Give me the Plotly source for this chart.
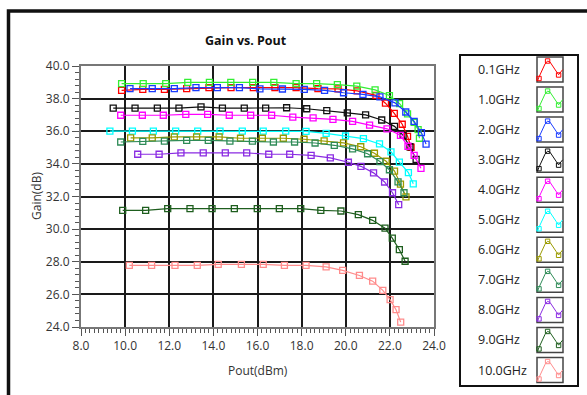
import plotly.graph_objects as go

# ---------------- data ----------------
freq_labels = ["0.1GHz", "1.0GHz", "2.0GHz", "3.0GHz", "4.0GHz", "5.0GHz",
               "6.0GHz", "7.0GHz", "8.0GHz", "9.0GHz", "10.0GHz"]
colors = ["#FF0000", "#33EE33", "#1A3CFF", "#111111", "#FF00FF", "#00FFFF",
          "#9A9A00", "#2E8B57", "#8A2BE2", "#1E5E1E", "#FF8C8C"]

pout_0p1 = [9.84, 10.80, 11.78, 12.79, 13.80, 14.80, 15.81, 16.79, 17.75, 18.74, 19.65, 20.52, 21.37, 21.80, 22.20, 22.56, 22.80, 22.96]
gain_0p1 = [38.51, 38.57, 38.57, 38.61, 38.68, 38.68, 38.68, 38.68, 38.68, 38.61, 38.60, 38.47, 38.20, 37.72, 37.10, 36.43, 35.69, 35.02]

pout_1p0 = [9.84, 10.82, 11.84, 12.84, 13.82, 14.79, 15.78, 16.74, 17.75, 18.68, 19.62, 20.50, 21.33, 21.98, 22.44, 22.80, 23.10, 23.28, 23.34]
gain_1p0 = [38.92, 38.92, 38.92, 39.00, 39.00, 39.00, 39.00, 39.00, 38.92, 38.92, 38.86, 38.77, 38.54, 38.19, 37.69, 37.07, 36.55, 36.10, 35.57]

pout_2p0 = [10.22, 11.23, 12.23, 13.21, 14.18, 15.18, 16.11, 17.13, 18.12, 19.04, 19.90, 20.78, 21.55, 22.23, 22.72, 23.10, 23.43, 23.64]
gain_2p0 = [38.61, 38.61, 38.61, 38.68, 38.68, 38.68, 38.60, 38.59, 38.57, 38.51, 38.36, 38.26, 38.11, 37.74, 37.18, 36.60, 35.91, 35.21]

pout_3p0 = [9.46, 10.45, 11.46, 12.44, 13.44, 14.41, 15.40, 16.37, 17.32, 18.23, 19.14, 20.07, 20.90, 21.63, 22.21, 22.60, 22.91, 23.19]
gain_3p0 = [37.42, 37.42, 37.42, 37.42, 37.49, 37.42, 37.42, 37.42, 37.44, 37.38, 37.27, 37.13, 37.00, 36.69, 36.30, 35.75, 35.05, 34.28]

pout_4p0 = [9.80, 10.78, 11.73, 12.75, 13.74, 14.72, 15.69, 16.64, 17.60, 18.52, 19.42, 20.31, 21.08, 21.87, 22.48, 22.82, 23.10, 23.41]
gain_4p0 = [36.98, 36.98, 36.98, 37.04, 37.04, 36.98, 36.98, 36.98, 36.87, 36.82, 36.73, 36.61, 36.37, 36.15, 35.75, 35.08, 34.52, 33.73]

pout_5p0 = [9.31, 10.33, 11.28, 12.29, 13.29, 14.30, 15.31, 16.26, 17.28, 18.20, 19.11, 19.99, 20.80, 21.53, 22.05, 22.43, 22.84, 23.06]
gain_5p0 = [36.01, 36.01, 36.01, 36.01, 36.01, 36.01, 36.01, 36.01, 36.01, 35.99, 35.87, 35.71, 35.55, 35.22, 34.74, 34.11, 33.46, 32.78]

pout_6p0 = [10.25, 11.23, 12.23, 13.24, 14.26, 15.23, 16.22, 17.17, 18.11, 19.02, 19.90, 20.68, 21.30, 21.83, 22.21, 22.48, 22.73]
gain_6p0 = [35.59, 35.59, 35.65, 35.65, 35.65, 35.57, 35.57, 35.57, 35.51, 35.41, 35.29, 35.05, 34.65, 34.16, 33.56, 32.76, 31.98]

pout_7p0 = [9.80, 10.80, 11.78, 12.79, 13.77, 14.75, 15.77, 16.72, 17.68, 18.61, 19.48, 20.31, 20.99, 21.55, 21.98, 22.37, 22.64]
gain_7p0 = [35.34, 35.38, 35.40, 35.44, 35.44, 35.40, 35.40, 35.34, 35.34, 35.28, 35.14, 34.92, 34.62, 34.14, 33.64, 32.90, 32.23]

pout_8p0 = [10.57, 11.54, 12.53, 13.54, 14.54, 15.51, 16.51, 17.46, 18.43, 19.30, 20.12, 20.69, 21.26, 21.76, 22.12, 22.40]
gain_8p0 = [34.59, 34.59, 34.67, 34.67, 34.67, 34.67, 34.59, 34.59, 34.52, 34.37, 34.10, 33.85, 33.45, 32.89, 32.23, 31.50]

pout_9p0 = [9.89, 10.93, 11.93, 12.94, 13.94, 14.95, 15.99, 16.99, 17.96, 18.87, 19.78, 20.57, 21.22, 21.78, 22.11, 22.43, 22.69]
gain_9p0 = [31.15, 31.15, 31.26, 31.26, 31.26, 31.26, 31.26, 31.26, 31.26, 31.15, 31.11, 30.89, 30.54, 30.06, 29.45, 28.74, 28.03]

pout_10p0 = [10.19, 11.20, 12.26, 13.27, 14.22, 15.27, 16.26, 17.22, 18.20, 19.11, 19.86, 20.62, 21.22, 21.68, 22.01, 22.28, 22.49]
gain_10p0 = [27.78, 27.78, 27.78, 27.78, 27.84, 27.84, 27.84, 27.78, 27.78, 27.68, 27.47, 27.16, 26.81, 26.25, 25.68, 25.06, 24.30]

x_ticks = [8.0, 10.0, 12.0, 14.0, 16.0, 18.0, 20.0, 22.0, 24.0]
y_ticks = [24.0, 26.0, 28.0, 30.0, 32.0, 34.0, 36.0, 38.0, 40.0]

series = [
    (pout_0p1, gain_0p1), (pout_1p0, gain_1p0), (pout_2p0, gain_2p0),
    (pout_3p0, gain_3p0), (pout_4p0, gain_4p0), (pout_5p0, gain_5p0),
    (pout_6p0, gain_6p0), (pout_7p0, gain_7p0), (pout_8p0, gain_8p0),
    (pout_9p0, gain_9p0), (pout_10p0, gain_10p0),
]

# ---------------- layout geometry (pixels) ----------------
W, H = 587, 395
L, R, T, B = 81, 434, 66, 327
FONT = "Open Sans"


def px(xp):
    return (xp - L) / (R - L)


def py(yp):
    return (B - yp) / (B - T)


fig = go.Figure()
for (xs, ys), name, col in zip(series, freq_labels, colors):
    fig.add_trace(go.Scatter(
        x=xs, y=ys, name=name, mode="lines+markers",
        line=dict(color=col, width=1.2),
        marker=dict(symbol="square-open", size=6, color=col, line=dict(width=1.3, color=col)),
        showlegend=False,
    ))

shapes = []
annotations = []

# outer frame
shapes.append(dict(type="rect", xref="paper", yref="paper",
                   x0=px(8.5), x1=px(620), y0=py(11), y1=py(430),
                   line=dict(color="#111111", width=3.5), layer="above"))

# legend box
shapes.append(dict(type="rect", xref="paper", yref="paper",
                   x0=px(460), x1=px(578), y0=py(55), y1=py(386),
                   line=dict(color="#111111", width=2)))

icon_line = [(0.5, 24), (2, 20), (8, 7), (10.6, 4), (13, 5), (19, 14), (21.6, 17.7), (25.6, 12.7)]
icon_marks = [(2.0, 21.5), (10.6, 4.0), (21.6, 18.0)]
for i, (name, col) in enumerate(zip(freq_labels, colors)):
    yc = 69.5 + 30.05 * i
    bx0, by0 = 537, yc - 12.5
    annotations.append(dict(xref="paper", yref="paper", x=px(476), y=py(yc),
                            xanchor="left", yanchor="middle", showarrow=False,
                            text=name, font=dict(family=FONT, size=12.5, color="#222222")))
    shapes.append(dict(type="rect", xref="paper", yref="paper",
                       x0=px(bx0), x1=px(bx0 + 26), y0=py(by0), y1=py(by0 + 25),
                       line=dict(color="#444444", width=1.5)))
    path = "M " + " L ".join(f"{px(bx0 + a):.5f},{py(by0 + b):.5f}" for a, b in icon_line)
    shapes.append(dict(type="path", xref="paper", yref="paper", path=path,
                       line=dict(color=col, width=1)))
    for a, b in icon_marks:
        shapes.append(dict(type="rect", xref="paper", yref="paper",
                           x0=px(bx0 + a - 2.2), x1=px(bx0 + a + 2.2),
                           y0=py(by0 + b - 2.2), y1=py(by0 + b + 2.2),
                           line=dict(color=col, width=1)))

# titles
annotations.append(dict(xref="paper", yref="paper", x=px(246), y=py(40),
                        xanchor="center", yanchor="middle", showarrow=False,
                        text="<b>Gain vs. Pout</b>",
                        font=dict(family=FONT, size=12.5, color="#111111")))
annotations.append(dict(xref="paper", yref="paper", x=px(258), y=py(370),
                        xanchor="center", yanchor="middle", showarrow=False,
                        text="Pout(dBm)", font=dict(family=FONT, size=12, color="#333333")))
annotations.append(dict(xref="paper", yref="paper", x=px(36), y=py(196),
                        xanchor="center", yanchor="middle", showarrow=False, textangle=-90,
                        text="Gain(dB)", font=dict(family=FONT, size=12, color="#333333")))

fig.update_layout(
    width=W, height=H,
    margin=dict(l=L, r=W - R, t=T, b=H - B, pad=0),
    paper_bgcolor="white", plot_bgcolor="white",
    font=dict(family=FONT, size=12, color="#333333"),
    shapes=shapes, annotations=annotations,
    showlegend=False,
)
fig.update_xaxes(
    range=[8, 24], tickvals=x_ticks, ticktext=[f"{v:.1f}" for v in x_ticks],
    showgrid=True, gridcolor="#1a1a1a", gridwidth=1.5,
    showline=True, mirror=True, linecolor="#777777", linewidth=2,
    ticks="outside", ticklen=7, tickcolor="#555555", tickwidth=1,
    minor=dict(dtick=0.2, tick0=8, ticks="outside", ticklen=4, tickcolor="#555555", showgrid=False),
    tickfont=dict(family=FONT, size=12, color="#333333"), zeroline=False,
)
fig.update_yaxes(
    range=[24, 40], tickvals=y_ticks, ticktext=[f"{v:.1f}" for v in y_ticks],
    showgrid=True, gridcolor="#1a1a1a", gridwidth=1.5,
    showline=True, mirror=True, linecolor="#777777", linewidth=2,
    ticks="outside", ticklen=7, tickcolor="#555555", tickwidth=1,
    minor=dict(dtick=0.4, tick0=24, ticks="outside", ticklen=4, tickcolor="#555555", showgrid=False),
    tickfont=dict(family=FONT, size=12, color="#333333"), zeroline=False,
)

fig.write_html("out.html")
